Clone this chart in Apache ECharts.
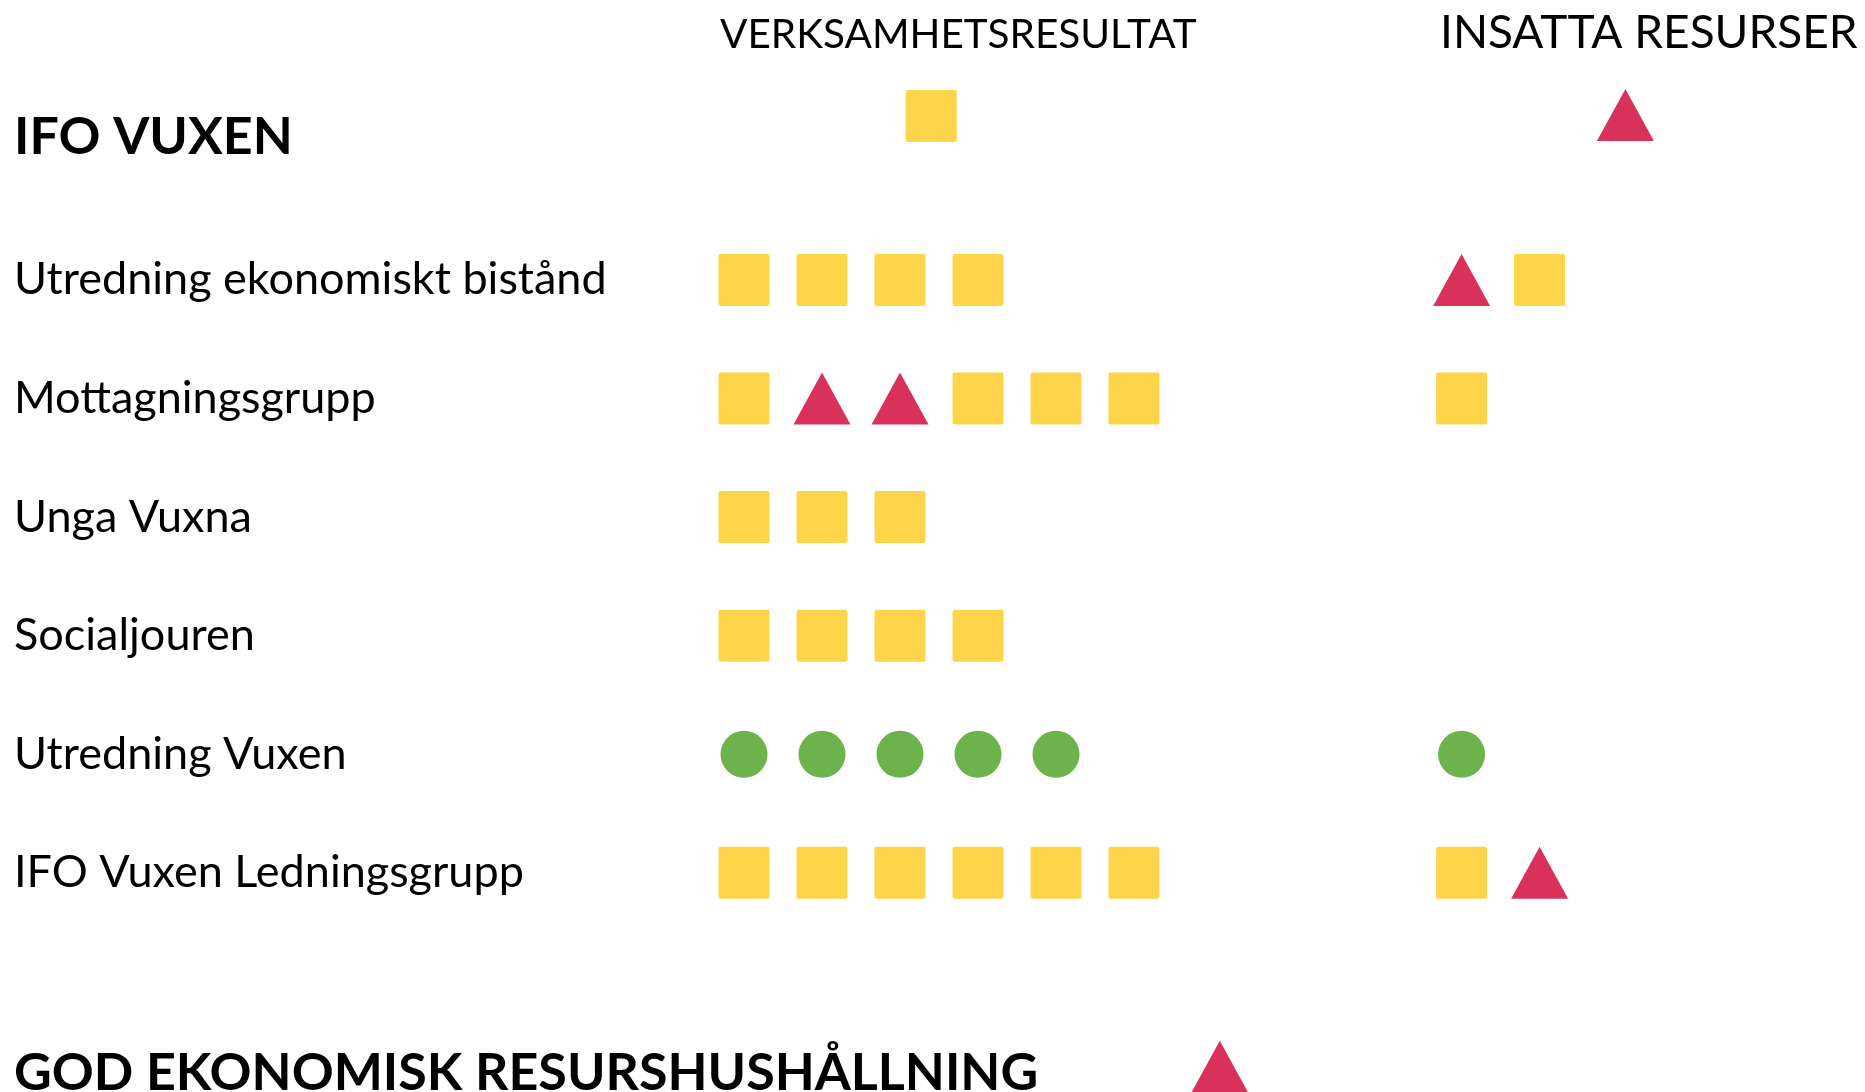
<!DOCTYPE html>
<html>
<head>
<meta charset="utf-8">
<script src="https://cdn.jsdelivr.net/npm/echarts@6/dist/echarts.min.js"></script>
<style>
html,body{margin:0;padding:0;background:#fff;}
#chart{width:1865px;height:1092px;}
</style>
</head>
<body>
<div id="chart"></div>
<script>
// ---- data ----
const columnTitles = ['VERKSAMHETSRESULTAT', 'INSATTA RESURSER'];
const headerTitle = 'IFO VUXEN';
const headerVerksamhet = 'Y';
const headerInsatta = 'R';
const rows = ['Utredning ekonomiskt bistånd', 'Mottagningsgrupp', 'Unga Vuxna', 'Socialjouren', 'Utredning Vuxen', 'IFO Vuxen Ledningsgrupp'];
const verksamhet = [
  ['Y','Y','Y','Y'],
  ['Y','R','R','Y','Y','Y'],
  ['Y','Y','Y'],
  ['Y','Y','Y','Y'],
  ['G','G','G','G','G'],
  ['Y','Y','Y','Y','Y','Y']
];
const insatta = [
  ['R','Y'],
  ['Y'],
  [],
  [],
  ['G'],
  ['Y','R']
];
const footerTitle = 'GOD EKONOMISK RESURSHUSHÅLLNING';
const footerStatus = 'R';

// ---- layout / style ----
const FONT = 'Lato';
const COLORS = { Y: '#FED54A', R: '#D9325A', G: '#6BB34A' };
const SQUARE = 'path://M2,0 H48 Q50,0 50,2 V48 Q50,50 48,50 H2 Q0,50 0,48 V2 Q0,0 2,0 Z';
function symbolFor(s) {
  if (s === 'Y') return { symbol: SQUARE, symbolSize: [51, 52] };
  if (s === 'R') return { symbol: 'triangle', symbolSize: [57, 52] };
  return { symbol: 'circle', symbolSize: 47 };
}
const COL_START = [0, 9.2];
const HEADER_SLOT = [2.4, 11.3];
const FOOTER_SLOT = 6.1;

// category list: header, spacers, rows separated by spacers, footer
const cats = [];
cats.push(headerTitle); cats.push(''); cats.push('');
const rowIdx = [];
rows.forEach((r, i) => {
  rowIdx.push(cats.length);
  cats.push(r);
  if (i < rows.length - 1) cats.push('');
});
cats.push(''); cats.push('');
const footerIdx = cats.length;
cats.push(footerTitle);

const data = [];
function add(x, y, s, offset) {
  const sym = symbolFor(s);
  data.push({
    value: [x, y],
    symbol: sym.symbol,
    symbolSize: sym.symbolSize,
    symbolOffset: offset || [0, 0],
    itemStyle: { color: COLORS[s], opacity: 1 }
  });
}
add(HEADER_SLOT[0], 0, headerVerksamhet, [0, 14]);
add(HEADER_SLOT[1], 0, headerInsatta, [0, 13]);
rows.forEach((r, i) => {
  verksamhet[i].forEach((s, j) => add(COL_START[0] + j, rowIdx[i], s));
  insatta[i].forEach((s, j) => add(COL_START[1] + j, rowIdx[i], s));
});
add(FOOTER_SLOT, footerIdx, footerStatus, [0, 16]);

const chart = echarts.init(document.getElementById('chart'), null, { renderer: 'canvas' });
chart.setOption({
  backgroundColor: '#ffffff',
  animation: false,
  grid: { left: 120, right: 29, top: 72.4, bottom: 11.6, containLabel: false, outerBoundsMode: 'none' },
  xAxis: { type: 'value', min: -8, max: 14, show: false },
  yAxis: {
    type: 'category',
    data: cats,
    inverse: true,
    axisLine: { show: false },
    axisTick: { show: false },
    splitLine: { show: false },
    axisLabel: {
      interval: 0,
      align: 'left',
      margin: 106,
      color: '#000',
      fontFamily: FONT,
      fontSize: 45,
      formatter: function (v) {
        if (v === headerTitle) return '{h|' + v + '}';
        if (v === footerTitle) return '{f|' + v + '}';
        return v;
      },
      rich: {
        h: { fontFamily: FONT, fontSize: 52, fontWeight: 'bold', color: '#000', padding: [70, 0, 0, 0] },
        f: { fontFamily: FONT, fontSize: 52, fontWeight: 'bold', color: '#000', padding: [44, 0, 0, 0] }
      }
    }
  },
  graphic: [
    { type: 'text', left: 720, top: 14, style: { text: columnTitles[0], fontFamily: FONT, fontSize: 40.5, fill: '#000' } },
    { type: 'text', left: 1440, top: 10, style: { text: columnTitles[1], fontFamily: FONT, fontSize: 46, fill: '#000' } }
  ],
  series: [{
    type: 'scatter',
    data: data,
    silent: true
  }]
});
</script>
</body>
</html>
